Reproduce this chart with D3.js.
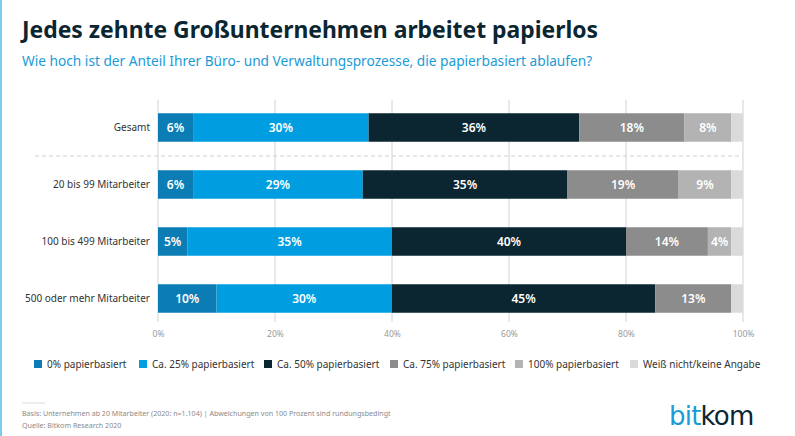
<!DOCTYPE html>
<html><head><meta charset="utf-8">
<script src="https://cdn.jsdelivr.net/npm/d3@7/dist/d3.min.js"></script>
<style>
body{margin:0;background:#fff;}
svg{display:block;}
</style></head><body>
<svg id="c" width="795" height="436"></svg>
<script>
const categories = ["Gesamt","20 bis 99 Mitarbeiter","100 bis 499 Mitarbeiter","500 oder mehr Mitarbeiter"];
const seriesNames = ["0% papierbasiert","Ca. 25% papierbasiert","Ca. 50% papierbasiert","Ca. 75% papierbasiert","100% papierbasiert","Weiß nicht/keine Angabe"];
const s0 = [6,6,5,10];
const s25 = [30,29,35,30];
const s50 = [36,35,40,45];
const s75 = [18,19,14,13];
const s100 = [8,9,4,0];
const sNA = [2,2,2,2];
const tickValues = [0,20,40,60,80,100];
const colors = ["#0b7db4","#009ee0","#0b2631","#8c8c8c","#b3b3b3","#dadada"];

const series = [s0,s25,s50,s75,s100,sNA];
const rows = categories.map((c,i)=>{const o={cat:c}; seriesNames.forEach((n,j)=>o[n]=series[j][i]); return o;});
const stack = d3.stack().keys(seriesNames)(rows);

const svg = d3.select("#c");
const font = "'Noto Sans', 'Open Sans', sans-serif";
const x = d3.scaleLinear().domain([0,100]).range([158,743]);
const y = d3.scaleBand().domain(categories).range([99,327]).paddingInner(0.5).paddingOuter(0.25);

// left accent line
svg.append("rect").attr("x",0).attr("y",0).attr("width",2).attr("height",436).attr("fill","#7fcbec");

// title
svg.append("text").attr("x",22).attr("y",38).attr("font-family","'Noto Sans', sans-serif").attr("font-weight",700)
  .attr("font-size",22.9).attr("fill","#0b2631").text("Jedes zehnte Großunternehmen arbeitet papierlos");
svg.append("text").attr("x",22).attr("y",66).attr("font-family",font)
  .attr("font-size",13.7).attr("fill","#1a9bd7").text("Wie hoch ist der Anteil Ihrer Büro- und Verwaltungsprozesse, die papierbasiert ablaufen?");

// gridlines
svg.append("g").selectAll("line").data(tickValues).join("line")
  .attr("x1",d=>x(d)).attr("x2",d=>x(d)).attr("y1",100).attr("y2",322)
  .attr("stroke","#d2d2d2").attr("stroke-width",1);

// axis labels
const ax = d3.axisBottom(x).tickValues(tickValues).tickFormat(d=>d+"%").tickSize(0);
const axg = svg.append("g").attr("transform","translate(0,328)").call(ax);
axg.select(".domain").remove();
axg.selectAll("text").attr("font-family",font).attr("font-size",8.5).attr("fill","#9a9a9a");

// separator
svg.append("line").attr("x1",35).attr("x2",743).attr("y1",156).attr("y2",156)
  .attr("stroke","#cfcfcf").attr("stroke-dasharray","4,3");

// bars
const g = svg.append("g");
stack.forEach((layer,j)=>{
  const lg = g.append("g");
  lg.selectAll("rect").data(layer).join("rect")
    .attr("x",d=>x(d[0])).attr("width",d=>x(d[1])-x(d[0]))
    .attr("y",d=>y(d.data.cat)).attr("height",y.bandwidth())
    .attr("fill",colors[j]);
  if(j<5){
    lg.selectAll("text").data(layer.filter(d=>d[1]-d[0]>0)).join("text")
      .attr("x",d=>(x(d[0])+x(d[1]))/2).attr("y",d=>y(d.data.cat)+y.bandwidth()/2+4.5)
      .attr("text-anchor","middle").attr("font-family",font).attr("font-weight",600)
      .attr("font-size",12).attr("fill","#fff").text(d=>(d[1]-d[0])+"%");
  }
});

// category labels
svg.append("g").selectAll("text").data(categories).join("text")
  .attr("x",150).attr("y",d=>y(d)+y.bandwidth()/2+3.5).attr("text-anchor","end")
  .attr("font-family",font).attr("font-size",10).attr("fill","#333").text(d=>d);

// legend
const legX = [34,139,264,390,515,630];
const leg = svg.append("g").selectAll("g").data(seriesNames).join("g")
  .attr("transform",(d,i)=>`translate(${legX[i]},360)`);
leg.append("rect").attr("width",8).attr("height",8).attr("fill",(d,i)=>colors[i]);
leg.append("text").attr("x",13).attr("y",8).attr("font-family",font).attr("font-size",10)
  .attr("fill","#333").text(d=>d);

// footer
svg.append("line").attr("x1",22).attr("x2",45).attr("y1",403).attr("y2",403).attr("stroke","#dcdcdc");
svg.append("text").attr("x",22).attr("y",416).attr("font-family",font).attr("font-size",7.1).attr("fill","#8a8a8a")
  .text("Basis: Unternehmen ab 20 Mitarbeiter (2020: n=1.104) | Abweichungen von 100 Prozent sind rundungsbedingt");
svg.append("text").attr("x",22).attr("y",428).attr("font-family",font).attr("font-size",7.1).attr("fill","#8a8a8a")
  .text("Quelle: Bitkom Research 2020");

// logo
const logo = svg.append("text").attr("x",669).attr("y",425).attr("font-family","'DejaVu Sans', sans-serif")
  .attr("font-size",26).attr("letter-spacing",-0.8);
logo.append("tspan").attr("fill","#1a9bd7").text("bit");
logo.append("tspan").attr("fill","#0b2631").text("kom");
</script>
</body></html>
